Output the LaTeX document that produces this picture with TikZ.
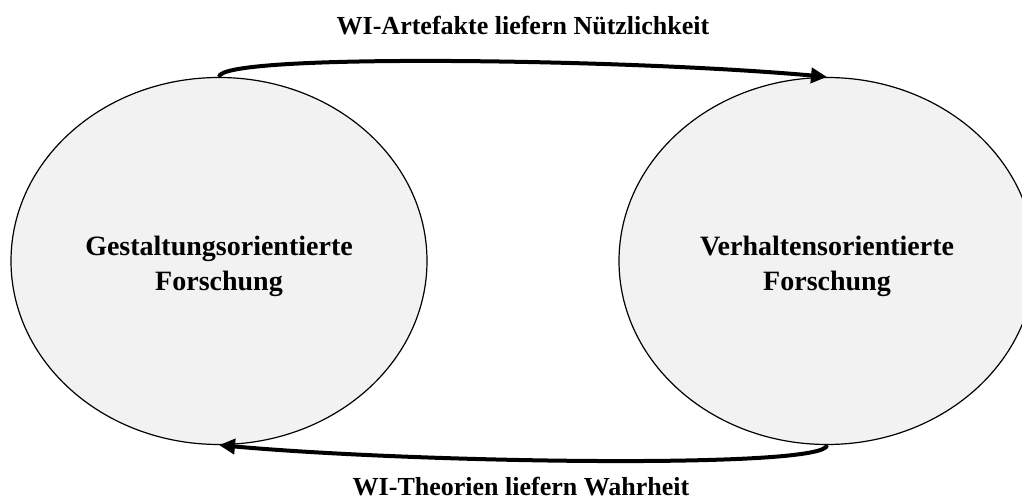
\documentclass[tikz,border=0pt]{standalone}
\usepackage{fontspec}
\setmainfont{Liberation Serif}
\usepackage{xcolor}
\usepackage{tikz}
\usetikzlibrary{arrows.meta,shapes.geometric}
\definecolor{fillgray}{HTML}{F2F2F2}
\definecolor{ink}{HTML}{000000}
\tikzset{
  field/.style={ellipse, draw=ink, line width=1.2pt, fill=fillgray,
    minimum width=416pt, minimum height=367pt, inner sep=0pt},
  fieldtext/.style={align=center, font=\fontsize{28}{35}\selectfont\bfseries},
  flow/.style={line width=4pt, draw=ink, -{Triangle[length=16pt,width=15pt]}},
  lab/.style={anchor=base, font=\fontsize{26}{30}\selectfont\bfseries}
}
\begin{document}
\begin{tikzpicture}[x=1pt,y=1pt]
  \useasboundingbox (0,0) rectangle (1022,502);

  \node[field] (gestalt) at (219,241) {};
  \node[field] (verhalten) at (827,241) {};
  \node[fieldtext] (gestaltText) at ([yshift=-5pt]gestalt.center) {Gestaltungsorientierte\\Forschung};
  \node[fieldtext] (verhaltenText) at ([yshift=-5pt]verhalten.center) {Verhaltensorientierte\\Forschung};

  \draw[flow] (gestalt.north) .. controls +(0,24) and +(-200,18) .. (verhalten.north);
  \draw[flow] (verhalten.south) .. controls +(0,-24) and +(200,-18) .. (gestalt.south);

  \node[lab] (nutzen) at (523,467) {WI-Artefakte liefern Nützlichkeit};
  \node[lab] (wahrheit) at (521,6) {WI-Theorien liefern Wahrheit};
\end{tikzpicture}
\end{document}
